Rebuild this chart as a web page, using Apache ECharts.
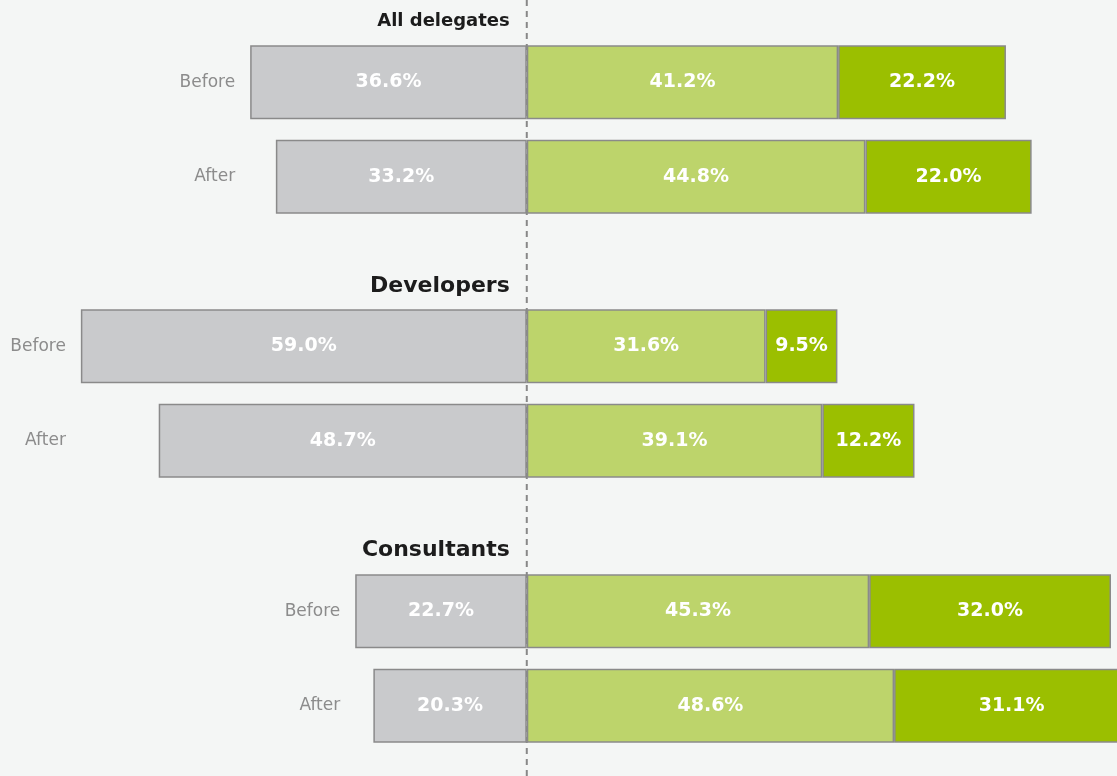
<!DOCTYPE html>
<html>
<head>
<meta charset="utf-8">
<script src="https://cdn.jsdelivr.net/npm/echarts@6/dist/echarts.min.js"></script>
<style>
    html, body {margin: 0; padding: 0; background: #f4f6f5; overflow: hidden;}
    /* a bit wider than the window so the last bar runs off the right edge */
    #chart {width: 1137px; height: 776px;}
</style>
</head>
<body>
<div id="chart"></div>
<script>
    // values per group, [Before, After]
    const groups = ['All delegates', 'Developers', 'Consultants'];
    const periods = ['Before', 'After'];
    const greyValues = [[36.6, 33.2], [59.0, 48.7], [22.7, 20.3]];
    const lightValues = [[41.2, 44.8], [31.6, 39.1], [45.3, 48.6]];
    const darkValues = [[22.2, 22.0], [9.5, 12.2], [32.0, 31.1]];

    const xMin = -69.7, xMax = 80.74;
    const gridTops = [35, 299, 564];
    const titleTops = [7, 270, 534];
    const titleSizes = [18, 22, 22];
    const Font = 'DejaVu Sans';
    const BorderColor = '#8a8a8a';

    const el = document.getElementById('chart');
    const chart = echarts.init(el);
    const W = el.clientWidth;
    const toPx = v => (v - xMin) / (xMax - xMin) * W;

    const fmt = p => Math.abs(p.value).toFixed(1) + '%';
    const barLabel = {
        show: true,
        position: 'inside',
        color: '#ffffff',
        fontFamily: Font,
        fontWeight: 'bold',
        fontSize: 19,
        formatter: fmt
    };

    const grid = [], xAxis = [], yAxis = [], series = [], title = [];

    groups.forEach((name, i) => {
        grid.push({left: 0, right: 0, top: gridTops[i], height: 189});
        xAxis.push({type: 'value', gridIndex: i, min: xMin, max: xMax, show: false});
        const labelRight = toPx(-Math.max(...greyValues[i])) - 15;
        yAxis.push({
            type: 'category',
            gridIndex: i,
            data: periods,
            inverse: true,
            offset: -labelRight,
            axisLine: {show: false},
            axisTick: {show: false},
            axisLabel: {color: '#8c8c8c', fontFamily: Font, fontSize: 17, margin: 0}
        });
        title.push({
            text: name,
            right: W - toPx(0) + 12,
            top: titleTops[i],
            textStyle: {color: '#1c1c1c', fontFamily: Font, fontWeight: 'bold', fontSize: titleSizes[i]}
        });
        const common = {
            type: 'bar',
            xAxisIndex: i,
            yAxisIndex: i,
            stack: 'g' + i,
            barWidth: 74,
            z: 2,
            label: barLabel
        };
        series.push(Object.assign({}, common, {
            name: 'grey',
            data: greyValues[i].map(v => -v),
            itemStyle: {color: '#c9cacc', borderColor: BorderColor, borderWidth: 1.5}
        }));
        series.push(Object.assign({}, common, {
            name: 'light',
            data: lightValues[i],
            itemStyle: {color: '#bdd46b', borderColor: BorderColor, borderWidth: 1.5}
        }));
        series.push(Object.assign({}, common, {
            name: 'dark',
            data: darkValues[i],
            itemStyle: {color: '#9bbf00', borderColor: BorderColor, borderWidth: 1.5}
        }));
    });

    // full height dashed zero line
    grid.push({left: 0, right: 0, top: 0, bottom: 0});
    xAxis.push({type: 'value', gridIndex: 3, min: xMin, max: xMax, show: false});
    yAxis.push({type: 'value', gridIndex: 3, min: 0, max: 1, show: false});
    series.push({
        type: 'line',
        xAxisIndex: 3,
        yAxisIndex: 3,
        data: [[0, 0], [0, 1]],
        showSymbol: false,
        z: 1,
        lineStyle: {color: '#888888', width: 2, type: [6, 5]}
    });

    chart.setOption({
        animation: false,
        backgroundColor: '#f4f6f5',
        title,
        grid,
        xAxis,
        yAxis,
        series
    });
</script>
</body>
</html>
